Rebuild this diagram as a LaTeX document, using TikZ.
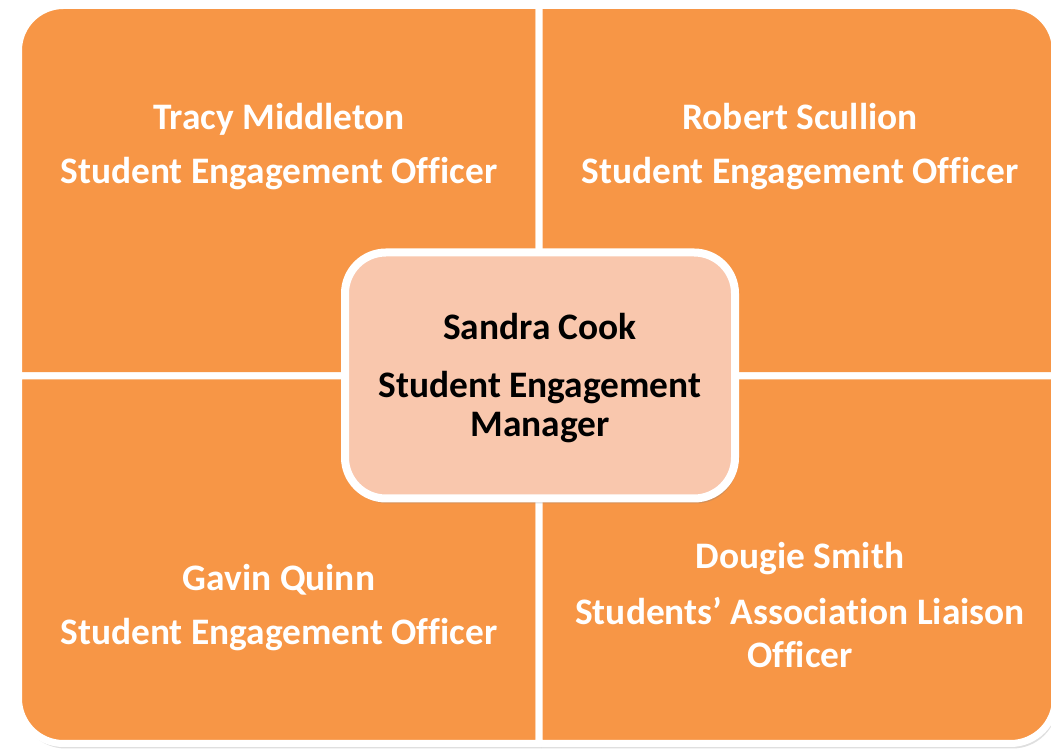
\documentclass[tikz,border=0pt]{standalone}
\usepackage{fontspec}
\setmainfont{Carlito}[Ligatures=NoCommon]
\usetikzlibrary{shadows}
\definecolor{quadorange}{HTML}{F79646}
\definecolor{mgrpink}{HTML}{F9C7AD}
\tikzset{
  quad/.style={fill=quadorange, draw=white, line width=3.5pt,
    drop shadow={shadow xshift=1pt, shadow yshift=-2.5pt, opacity=.25}},
  mgrbox/.style={fill=mgrpink, draw=white, line width=4pt, rounded corners=20.5pt,
    drop shadow={shadow xshift=1pt, shadow yshift=-2.5pt, opacity=.3}},
  staff/.style={anchor=base, align=center, inner sep=0pt, text=white,
    font=\bfseries\fontsize{18.7}{21.8}\selectfont},
  boss/.style={anchor=base, align=center, inner sep=0pt, text=black,
    font=\bfseries\fontsize{18.7}{19.5}\selectfont}
}
\begin{document}
\begin{tikzpicture}[x=0.5pt,y=0.5pt]
\clip (0,0) rectangle (1051,749);
\fill[white] (0,0) rectangle (1051,749);
% four quarters, each with its own rounded corner
\draw[quad] (539,373) -- (18.5,373) -- (18.5,698.5) arc[start angle=180,end angle=90,radius=22.5pt] -- (539,743.5) -- cycle;
\draw[quad] (539,373) -- (539,743.5) -- (1010.5,743.5) arc[start angle=90,end angle=0,radius=22.5pt] -- (1055.5,373) -- cycle;
\draw[quad] (539,373) -- (539,5.5) -- (63.5,5.5) arc[start angle=270,end angle=180,radius=22.5pt] -- (18.5,373) -- cycle;
\draw[quad] (539,373) -- (1055.5,373) -- (1055.5,50.5) arc[start angle=0,end angle=-90,radius=22.5pt] -- (539,5.5) -- cycle;
\node[staff] (tracy) at (279,565) {Tracy Middleton\\[5.2pt]Student Engagement Officer};
\node[staff] (robert) at (800,565) {Robert Scullion\\[5.2pt]Student Engagement Officer};
\node[staff] (gavin) at (279,104) {Gavin Quinn\\[5.2pt]Student Engagement Officer};
\node[staff] (dougie) at (800,81) {Dougie Smith\\[6.2pt]Students’ Association Liaison\\Officer};
% manager in the middle
\draw[mgrbox] (345,250.5) rectangle (735,496.5);
\node[boss] (sandra) at (540,312) {Sandra Cook\\[9.5pt]Student Engagement\\Manager};
\end{tikzpicture}
\end{document}
